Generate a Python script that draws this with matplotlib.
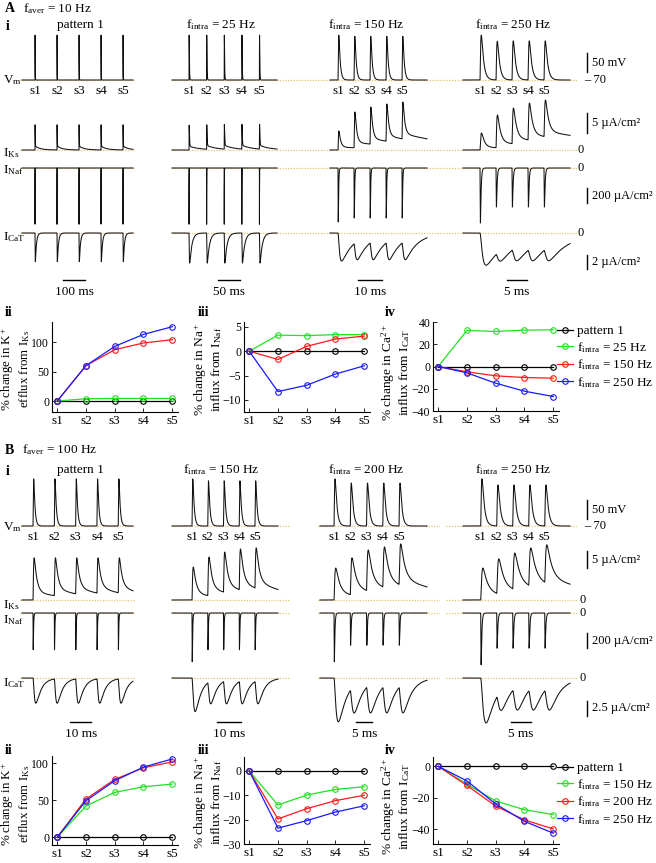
import numpy as np
import matplotlib
matplotlib.use('Agg')
import matplotlib.pyplot as plt
from matplotlib import transforms

plt.rcParams['font.family'] = ['Liberation Serif', 'DejaVu Serif']
plt.rcParams['mathtext.fontset'] = 'custom'
plt.rcParams['mathtext.rm'] = 'Liberation Serif'
plt.rcParams['mathtext.it'] = 'Liberation Serif:italic'
plt.rcParams['mathtext.bf'] = 'Liberation Serif:bold'
plt.rcParams['mathtext.default'] = 'regular'

# ======================= DATA =======================
stim_labels = ['s1', 's2', 's3', 's4', 's5']

# ---- Panel A : f_aver = 10 Hz ----
A_titles = ['pattern 1', '$f_{intra}$ = 25 Hz', '$f_{intra}$ = 150 Hz', '$f_{intra}$ = 250 Hz']
A_spike_times = [[0, 100, 200, 300, 400],
                 [0, 40, 80, 120, 160],
                 [0, 6.67, 13.33, 20, 26.67],
                 [0, 4, 8, 12, 16]]
A_vm_peak = [[48, 48, 48, 48, 48], [48, 48, 48, 48, 48],
             [48, 45, 45, 45, 45], [48, 32, 33, 33, 33]]
A_iks_peak = [[6.3, 6.3, 6.3, 6.3, 6.3], [6.2, 6.3, 6.4, 6.4, 6.4],
              [4.75, 9.5, 10.75, 11.5, 12.0], [4.25, 8.75, 10.5, 11.75, 12.5]]
A_inaf_peak = [[-750, -750, -750, -750, -750], [-750, -750, -750, -750, -750],
               [-720, -667, -667, -667, -667], [-733, -520, -520, -520, -520]]
A_icat_peak = [[-4.1, -4.1, -4.1, -4.1, -4.1], [-4.3, -4.3, -4.3, -4.3, -4.3],
               [-4.0, -3.8, -3.8, -3.8, -3.8], [-4.6, -3.9, -3.9, -3.9, -3.9]]
A_time_bar_ms = [100, 50, 10, 5]
A_time_bar_lbl = ['100 ms', '50 ms', '10 ms', '5 ms']

A_legend = ['pattern 1', '$f_{intra}$ = 25 Hz', '$f_{intra}$ = 150 Hz', '$f_{intra}$ = 250 Hz']
A_K = [[0, 0, 0, 0, 0], [0, 4, 4.5, 4.5, 4.5], [0, 60, 87, 98.5, 104], [0, 60, 92.7, 113, 126]]
A_Na = [[0, 0, 0, 0, 0], [0, 3.3, 3.2, 3.4, 3.4], [0, -1.7, 1.0, 2.5, 3.1], [0, -8.3, -7.0, -4.7, -3.0]]
A_Ca = [[0, 0, 0, 0, 0], [0, 32.4, 31.5, 32.7, 33.0], [0, -4.8, -8.4, -9.9, -10.5], [0, -5.7, -15.0, -22.2, -27.0]]

# ---- Panel B : f_aver = 100 Hz ----
B_titles = ['pattern 1', '$f_{intra}$ = 150 Hz', '$f_{intra}$ = 200 Hz', '$f_{intra}$ = 250 Hz']
B_spike_times = [[0, 10, 20, 30, 40],
                 [0, 6.67, 13.33, 20, 26.67],
                 [0, 5, 10, 15, 20],
                 [0, 4, 8, 12, 16]]
B_vm_peak = [[54, 54, 54, 54, 54], [54, 49, 49, 49, 49],
             [54, 43, 43, 43, 43], [54, 38, 38, 38, 38]]
B_iks_peak = [[12.4, 12.4, 12.4, 12.4, 12.4], [9.7, 12.6, 14.1, 15.0, 15.3],
              [9.4, 12.4, 14.7, 15.6, 16.5], [9.4, 12.1, 13.8, 15.3, 16.2]]
B_inaf_peak = [[-490, -490, -490, -490, -490], [-650, -490, -490, -490, -490],
               [-650, -430, -430, -430, -430], [-690, -470, -470, -470, -470]]
B_icat_peak = [[-4.2, -4.2, -4.2, -4.2, -4.2], [-5.6, -4.3, -4.3, -4.3, -4.3],
               [-7.3, -5.8, -5.8, -5.8, -5.8], [-7.5, -5.3, -5.3, -5.3, -5.3]]
B_time_bar_ms = [10, 10, 5, 5]
B_time_bar_lbl = ['10 ms', '10 ms', '5 ms', '5 ms']

B_legend = ['pattern 1', '$f_{intra}$ = 150 Hz', '$f_{intra}$ = 200 Hz', '$f_{intra}$ = 250 Hz']
B_K = [[0, 0, 0, 0, 0], [0, 42.3, 60.8, 68.4, 72], [0, 51.8, 78.4, 94, 102], [0, 49.5, 76.5, 95, 106]]
B_Na = [[0, 0, 0, 0, 0], [0, -14.0, -9.9, -7.6, -6.5], [0, -19.7, -15.5, -12.2, -10.0], [0, -23.5, -20.4, -16.9, -14.3]]
B_Ca = [[0, 0, 0, 0, 0], [0, -11.4, -22.1, -27.6, -30.7], [0, -12.2, -25.3, -34.1, -39.8], [0, -9.3, -24.0, -35.0, -42.5]]

# ======================= STYLE / LAYOUT =======================
W, H = 656, 863
fig = plt.figure(figsize=(W / 100, H / 100), dpi=100)
SERIES_COLORS = ['#000000', '#22e022', '#ff1a1a', '#1a1aff']
DOT_COLOR = '#eec46a'


def add_ax(x0, y0, x1, y1):
    return fig.add_axes([x0 / W, 1 - y1 / H, (x1 - x0) / W, (y1 - y0) / H])


def ftext(x, y, s, **kw):
    kw.setdefault('ha', 'left')
    kw.setdefault('va', 'center')
    return fig.text(x / W, 1 - y / H, s, **kw)


def kern(t, tr, td1, td2=1.0, w=1.0):
    t = np.asarray(t, float)
    tt = np.clip(t, 0, None)
    v = (1 - np.exp(-tt / tr)) ** 2 * (w * np.exp(-tt / td1) + (1 - w) * np.exp(-tt / td2))
    return np.where(t > 0, v, 0.0)


def render(t, spikes, peaks, base, kp):
    tg = np.linspace(0, 6 * kp['td1'], 60001)
    kg = kern(tg, **kp)
    kmax = kg.max()
    tpk = tg[kg.argmax()]
    amps = []
    for k, (tk, pk) in enumerate(zip(spikes, peaks)):
        resid = sum(a * float(kern(tk + tpk - tj, **kp)) / kmax for a, tj in zip(amps, spikes[:k]))
        amps.append((pk - base) - resid)
    y = np.full_like(t, base, dtype=float)
    for a, tj in zip(amps, spikes):
        y += a * kern(t - tj, **kp) / kmax
    return y


def trace_panel(cols, rows, spikes, peaks, kparams, titles, title_y, s_y,
                tbar_ms, tbar_lbl, tbar_start, tbar_y, vbars, zero_x):
    for c in range(4):
        x0, x1 = cols['box'][c]
        s1, ppm = cols['s1'][c], cols['ppm'][c]
        tx0, tx1 = cols['trace'][c]
        t = np.linspace((tx0 - s1) / ppm, (tx1 - s1) / ppm, 30000)
        for r, (name, bl, sc, base, yt, yb) in enumerate(rows):
            ax = add_ax(x0, yt, x1, yb)
            ax.set_facecolor('none')
            ax.set_xlim((x0 - s1) / ppm, (x1 - s1) / ppm)
            ax.set_ylim(base + (bl - yb) / sc, base + (bl - yt) / sc)
            ax.axis('off')
            ax.axhline(base, color=DOT_COLOR, ls=(0, (1, 1.2)), lw=0.9, zorder=1)
            y = render(t, spikes[c], peaks[r][c], base, kparams[r])
            ax.plot(t, y, color='#111111', lw=0.75, zorder=2, clip_on=False)
            if r == 0:
                tr_ = transforms.blended_transform_factory(ax.transData, fig.transFigure)
                for i, tk in enumerate(spikes[c]):
                    ax.text(tk, 1 - s_y / H, stim_labels[i], transform=tr_, ha='center',
                            va='center', fontsize=9.5)
            if r == 3:
                tr_ = transforms.blended_transform_factory(ax.transData, fig.transFigure)
                ts = tbar_start[c]
                ax.plot([ts, ts + tbar_ms[c]], [1 - tbar_y / H] * 2, transform=tr_, color='k',
                        lw=1.0, clip_on=False)
                ax.text(ts + tbar_ms[c] / 2, 1 - (tbar_y + 12) / H, tbar_lbl[c], transform=tr_,
                        ha='center', va='center', fontsize=9.5)
            if c == 3:
                trv = transforms.blended_transform_factory(fig.transFigure, ax.transData)
                v0, v1, lbl = vbars[r]
                ax.plot([587 / W, 587 / W], [v0, v1], transform=trv, color='k', lw=1.0, clip_on=False)
                ax.text(592 / W, (v0 + v1) / 2, lbl, transform=trv, ha='left', va='center', fontsize=9)
                if r == 0:
                    ax.text(584 / W, base, '– 70', transform=trv, ha='left', va='center', fontsize=9)
                else:
                    ax.text(zero_x / W, base, '0', transform=trv, ha='left', va='center', fontsize=9)
        ftext(cols['title_x'][c], title_y, titles[c], ha='center', fontsize=9.5)


def line_panel(box, data, ylim, yticks):
    ax = add_ax(*box)
    x = np.arange(1, 6)
    lines = []
    for vals, col in zip(data, SERIES_COLORS):
        ln, = ax.plot(x, vals, '-o', color=col, mfc='none', ms=4, lw=0.9, mew=0.8)
        lines.append(ln)
    ax.set_xlim(0.82, 5.2)
    ax.set_ylim(*ylim)
    ax.set_xticks(x, stim_labels)
    ax.set_yticks(yticks)
    for s in ['top', 'right']:
        ax.spines[s].set_visible(False)
    for s in ['left', 'bottom']:
        ax.spines[s].set_linewidth(0.8)
    ax.tick_params(direction='in', length=3, width=0.6, pad=2)
    ax.tick_params(axis='x', labelsize=9.5)
    ax.tick_params(axis='y', labelsize=8.5)
    return ax, lines


def ylabel(x, y, s, fs=9.6):
    ftext(x, y, s, rotation=90, ha='center', va='center', fontsize=fs, linespacing=1.05,
          multialignment='center')


kp_common = [dict(tr=0.15, td1=0.55),
             None,
             dict(tr=0.05, td1=0.16),
             None]
A_kp = [kp_common[0], dict(tr=0.15, td1=0.7, td2=25.0, w=0.92), kp_common[2], dict(tr=0.5, td1=5.0)]
B_kp = [kp_common[0], dict(tr=0.2, td1=1.2, td2=15.0, w=0.88), kp_common[2], dict(tr=0.6, td1=2.5)]

# ---------------- Panel A ----------------
ftext(5, 9, 'A', fontweight='bold', fontsize=10)
ftext(23, 9, '$f_{aver}$ = 10 Hz', fontsize=9.5)
ftext(6, 26, 'i', fontweight='bold', fontsize=10)
A_cols = dict(box=[(20, 135), (172, 330), (330, 446), (446, 578)], s1=[35, 189, 338, 480],
              ppm=[0.22, 0.44, 2.4, 4.0], trace=[(22, 133), (172, 277), (330, 427), (463, 570)],
              title_x=[80, 221, 366, 513])
A_rows = [('Vm', 80, 0.38, -70, 30, 86), ('IKs', 150, 4.0, 0, 95, 153),
          ('INaf', 168, 0.075, 0, 164, 228), ('ICaT', 233, 7.0, 0, 229, 270)]
trace_panel(A_cols, A_rows, A_spike_times, [A_vm_peak, A_iks_peak, A_inaf_peak, A_icat_peak], A_kp,
            A_titles, 25, 91, A_time_bar_ms, A_time_bar_lbl, [127, 66, 8.3, 6.75], 280,
            [(-50, 0, '50 mV'), (4.25, 9.25, '5 µA/cm²'), (-467, -267, '200 µA/cm²'),
             (-5.14, -3.14, '2 µA/cm²')], 577)
for lbl, y in [('$V_m$', 80), ('$I_{Ks}$', 153), ('$I_{Naf}$', 170), ('$I_{CaT}$', 237)]:
    ftext(3, y, lbl, fontsize=9.5)

ftext(5, 313, 'ii', fontweight='bold', fontsize=10)
ftext(198, 313, 'iii', fontweight='bold', fontsize=10)
ftext(385, 313, 'iv', fontweight='bold', fontsize=10)
line_panel((52, 322, 178, 412), A_K, (-18.5, 134), [0, 50, 100])
line_panel((244, 322, 370, 412), A_Na, (-12.5, 6.0), [-10, -5, 0, 5])
axA4, linesA = line_panel((433, 322, 559, 411), A_Ca, (-40, 40), [-40, -20, 0, 20, 40])
ylabel(15.5, 369, '% change in K$^+$\nefflux from $I_{Ks}$', 9.3)
ylabel(208, 369, '% change in Na$^+$\ninflux from $I_{Naf}$')
ylabel(396, 372, '% change in Ca$^{2+}$\ninflux from $I_{CaT}$')
fig.legend(linesA, A_legend, loc='upper left', bbox_to_anchor=(557 / W, 1 - 325 / H), frameon=False,
           handlelength=1.2, handletextpad=0.3, labelspacing=0.2, borderaxespad=0, borderpad=0,
           fontsize=9.5)

# ---------------- Panel B ----------------
ftext(5, 450, 'B', fontweight='bold', fontsize=10)
ftext(22, 450, '$f_{aver}$ = 100 Hz', fontsize=9.5)
ftext(6, 471, 'i', fontweight='bold', fontsize=10)
B_cols = dict(box=[(20, 135), (172, 290), (318, 440), (446, 578)], s1=[33, 192, 334, 480.7],
              ppm=[2.13, 2.36, 3.25, 4.0], trace=[(22, 133), (172, 278), (320, 427), (463, 570)],
              title_x=[80, 221, 366, 513])
B_rows = [('Vm', 526, 0.38, -70, 474, 532), ('IKs', 600, 3.4, 0, 540, 603),
          ('INaf', 613, 0.075, 0, 609, 670), ('ICaT', 678, 6.0, 0, 674, 728)]
trace_panel(B_cols, B_rows, B_spike_times, [B_vm_peak, B_iks_peak, B_inaf_peak, B_icat_peak], B_kp,
            B_titles, 470, 537, B_time_bar_ms, B_time_bar_lbl, [17.4, 10.6, 6.8, 7.6], 722,
            [(-52, -2, '50 mV'), (9.4, 14.4, '5 µA/cm²'), (-467, -267, '200 µA/cm²'),
             (-6.33, -3.83, '2.5 µA/cm²')], 580)
for lbl, y in [('$V_m$', 527), ('$I_{Ks}$', 605), ('$I_{Naf}$', 620), ('$I_{CaT}$', 683)]:
    ftext(3, y, lbl, fontsize=9.5)

ftext(5, 750, 'ii', fontweight='bold', fontsize=10)
ftext(198, 750, 'iii', fontweight='bold', fontsize=10)
ftext(385, 750, 'iv', fontweight='bold', fontsize=10)
line_panel((52, 756, 178, 845), B_K, (-10.4, 110), [0, 50, 100])
line_panel((244, 757, 370, 844), B_Na, (-30, 5.7), [-30, -20, -10, 0])
axB4, linesB = line_panel((433, 757, 559, 844), B_Ca, (-49.4, 5.9), [-40, -20, 0])
ylabel(15.5, 804, '% change in K$^+$\nefflux from $I_{Ks}$', 9.3)
ylabel(208, 802, '% change in Na$^+$\ninflux from $I_{Naf}$')
ylabel(396, 806, '% change in Ca$^{2+}$\ninflux from $I_{CaT}$')
fig.legend(linesB, B_legend, loc='upper left', bbox_to_anchor=(557 / W, 1 - 762 / H), frameon=False,
           handlelength=1.2, handletextpad=0.3, labelspacing=0.2, borderaxespad=0, borderpad=0,
           fontsize=9.5)

fig.savefig('out.png', dpi=100)
